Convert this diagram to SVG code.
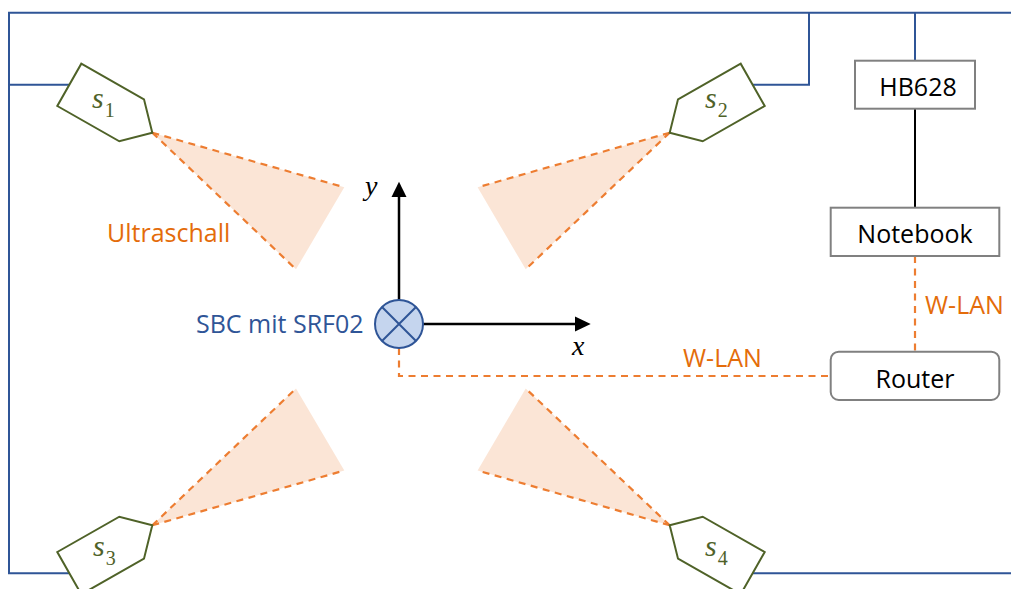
<svg xmlns="http://www.w3.org/2000/svg" width="1011" height="589" viewBox="0 0 1011 589">
<defs>
<style>
.bus{fill:none;stroke:#2F5597;stroke-width:2}
.sensor{fill:#fff;stroke:#4F6228;stroke-width:2;stroke-linejoin:miter}
.beam{fill:#FBE5D6;stroke:none}
.dash{fill:none;stroke:#ED7D31;stroke-width:2.2;stroke-dasharray:7 5.5}
.box{fill:#fff;stroke:#808080;stroke-width:2}
.lbl{font-family:"Open Sans","Liberation Sans",sans-serif;font-size:25px}
.orange{fill:#E46C0A}
.blk{fill:#000}
.sv{font-family:"Liberation Serif","DejaVu Serif",serif;font-style:italic;font-size:30px;fill:#4F6228}
.sub{font-family:"Liberation Serif","DejaVu Serif",serif;font-style:normal;font-size:20px;fill:#4F6228}
.ax{font-family:"Liberation Serif","DejaVu Serif",serif;font-style:italic;font-size:28px;fill:#000}
</style>
</defs>
<rect width="1011" height="589" fill="#fff"/>

<g id="connectors">
<path class="bus" d="M69.4 84.7 H9 V12.7 H1011"/>
<path class="bus" d="M9 84.7 V573.3 H69.4"/>
<path class="bus" d="M752.6 84.7 H809 V12.7"/>
<path class="bus" d="M915 12.7 V60.7"/>
<path class="bus" d="M752.6 573.3 H1011"/>
<path d="M915 108.7 V207.7" fill="none" stroke="#000" stroke-width="2"/>
<path class="dash" d="M915 256 V351.7"/>
<path class="dash" d="M399 348 V376 H830.7"/>
<text class="lbl orange" x="683" y="366.5">W-LAN</text>
<text class="lbl orange" x="925" y="314">W-LAN</text>
</g>

<g id="beams">
<polygon class="beam" points="152.3,132.7 344.3,187.3 296,269.3"/>
<path class="dash" d="M152.3 132.7 L344.3 187.3 M152.3 132.7 L296 269.3"/>
<polygon class="beam" points="669.7,132.7 477.6,187.3 525.7,269.3"/>
<path class="dash" d="M669.7 132.7 L477.6 187.3 M669.7 132.7 L525.7 269.3"/>
<polygon class="beam" points="152.3,525.3 344.3,470.5 296,388.5"/>
<path class="dash" d="M152.3 525.3 L344.3 470.5 M152.3 525.3 L296 388.5"/>
<polygon class="beam" points="669.7,525.3 477.6,470.5 525.7,388.5"/>
<path class="dash" d="M669.7 525.3 L477.6 470.5 M669.7 525.3 L525.7 388.5"/>
<text class="lbl orange" x="107" y="242">Ultraschall</text>
</g>

<g id="s1">
<polygon class="sensor" points="81.3,63.7 144,99.3 152.3,132.7 119.3,141.3 57.3,106"/>
<text class="sv" x="92" y="108">s<tspan class="sub" dx="1" dy="9">1</tspan></text>
</g>
<g id="s2">
<polygon class="sensor" points="740.7,63.7 678,99.3 669.7,132.7 702.7,141.3 764.7,106"/>
<text class="sv" x="705" y="108">s<tspan class="sub" dx="1" dy="9">2</tspan></text>
</g>
<g id="s3">
<polygon class="sensor" points="81.3,594.3 144,558.7 152.3,525.3 119.3,516.7 57.3,552"/>
<text class="sv" x="93" y="556">s<tspan class="sub" dx="1" dy="9">3</tspan></text>
</g>
<g id="s4">
<polygon class="sensor" points="740.7,594.3 678,558.7 669.7,525.3 702.7,516.7 764.7,552"/>
<text class="sv" x="705" y="556">s<tspan class="sub" dx="1" dy="9">4</tspan></text>
</g>

<g id="axes">
<line x1="399" y1="300" x2="399" y2="196" stroke="#000" stroke-width="2.5"/>
<polygon points="399,181.7 391.5,197 406.5,197" fill="#000"/>
<line x1="423" y1="324" x2="576" y2="324" stroke="#000" stroke-width="2.5"/>
<polygon points="590.7,324 575,316.5 575,331.5" fill="#000"/>
<text class="ax" x="365" y="195">y</text>
<text class="ax" x="572" y="355">x</text>
</g>

<g id="sbc">
<circle cx="399" cy="324" r="24" fill="#C5D5EE" stroke="#2F5597" stroke-width="2"/>
<path d="M382 307 L416 341 M416 307 L382 341" stroke="#2F5597" stroke-width="2"/>
<text class="lbl" x="196" y="333" fill="#2F5597">SBC mit SRF02</text>
</g>

<g id="hb628">
<rect class="box" x="855" y="60.7" width="120" height="48"/>
<text class="lbl blk" x="918" y="96" text-anchor="middle">HB628</text>
</g>
<g id="notebook">
<rect class="box" x="830.7" y="207.7" width="168.6" height="48.3"/>
<text class="lbl blk" x="915" y="243" text-anchor="middle">Notebook</text>
</g>
<g id="router">
<rect class="box" x="830.7" y="351.7" width="168.6" height="48.3" rx="8" ry="8"/>
<text class="lbl blk" x="915" y="387.5" text-anchor="middle">Router</text>
</g>
</svg>
